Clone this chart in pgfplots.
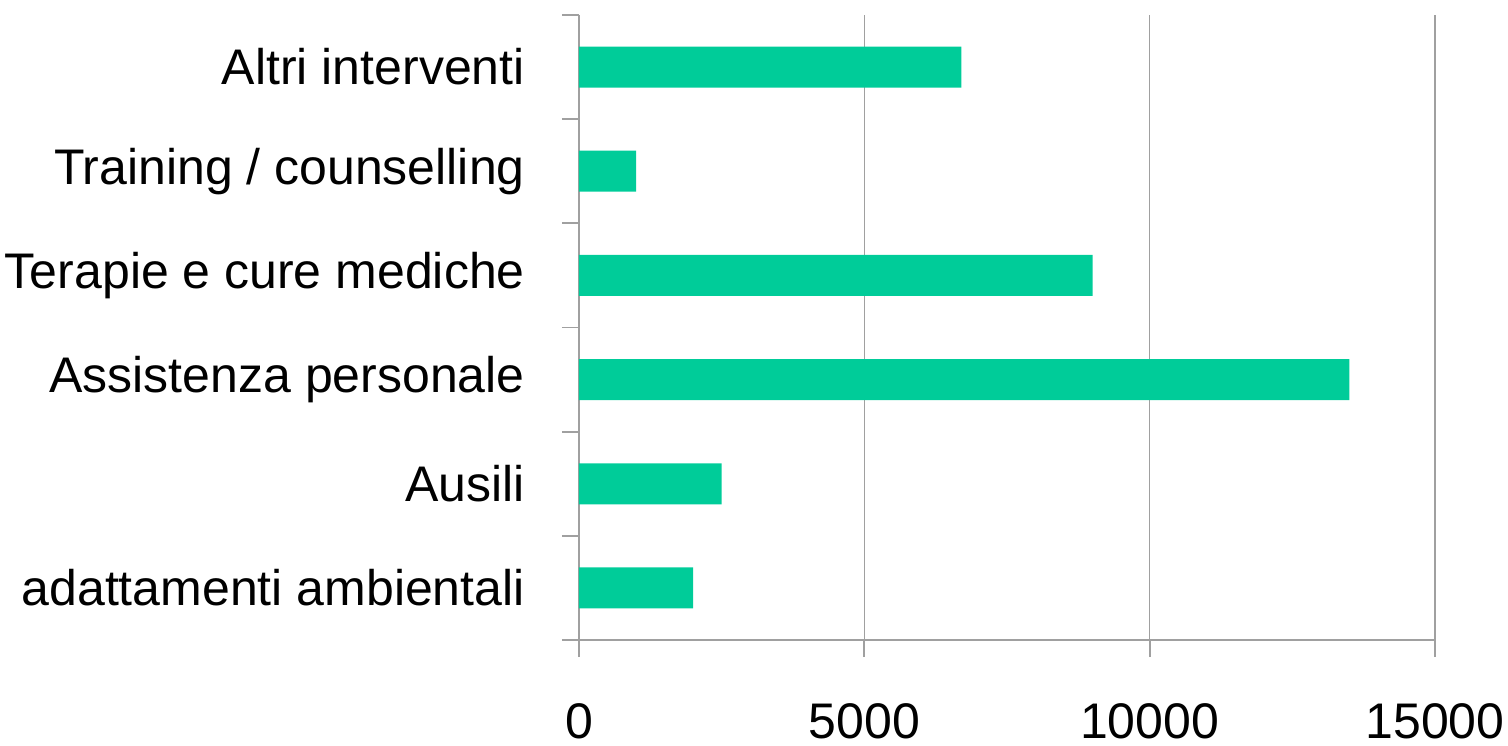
\documentclass[border=0pt]{standalone}
\usepackage{pgfplots}
\pgfplotsset{compat=1.18}
\usepackage{fontspec}
\setmainfont{Liberation Sans}
\definecolor{barc}{HTML}{00CC99}
\definecolor{gridc}{HTML}{A0A0A0}
\begin{document}
\begin{tikzpicture}
\begin{axis}[
  name=ax,
  scale only axis,
  width=856bp, height=625bp,
  xmin=0, xmax=15000, ymin=-0.5, ymax=5.5,
  xbar, bar width=41bp,
  axis lines*=left,
  axis line style={gridc, line width=1.8bp},
  xtick={0,5000,10000,15000},
  ytick={0,1,2,3,4,5},
  yticklabels={adattamenti ambientali, Ausili, Assistenza personale, Terapie e cure mediche, Training / counselling, Altri interventi},
  minor ytick={-0.5,0.5,1.5,2.5,3.5,4.5,5.5},
  tick align=outside,
  major tick length=17bp,
  minor tick length=17bp,
  xtick style={gridc, line width=1.8bp},
  ytick style={draw=none},
  minor y tick style={draw=gridc, line width=1.8bp},
  xmajorgrids,
  major grid style={gridc, line width=1.4bp},
  scaled x ticks=false,
  /pgf/number format/assume math mode=true,
  xticklabel={\pgfmathprintnumber[fixed,use comma=false,1000 sep={}]{\tick}},
  ticklabel style={font=\fontsize{50.2}{60}\selectfont},
  yticklabel style={anchor=east, inner sep=0pt, xshift=-37bp},
  xticklabel style={anchor=north, inner sep=0pt, yshift=-46bp},
]
\addplot[fill=barc, draw=none] coordinates {
  (2000,0) (2500,1) (13500,2) (9000,3) (1000,4) (6700,5)
};
\end{axis}
\pgfresetboundingbox
\path ([xshift=-579bp,yshift=-106bp]ax.south west) rectangle ([xshift=929bp,yshift=640bp]ax.south west);
\end{tikzpicture}
\end{document}
